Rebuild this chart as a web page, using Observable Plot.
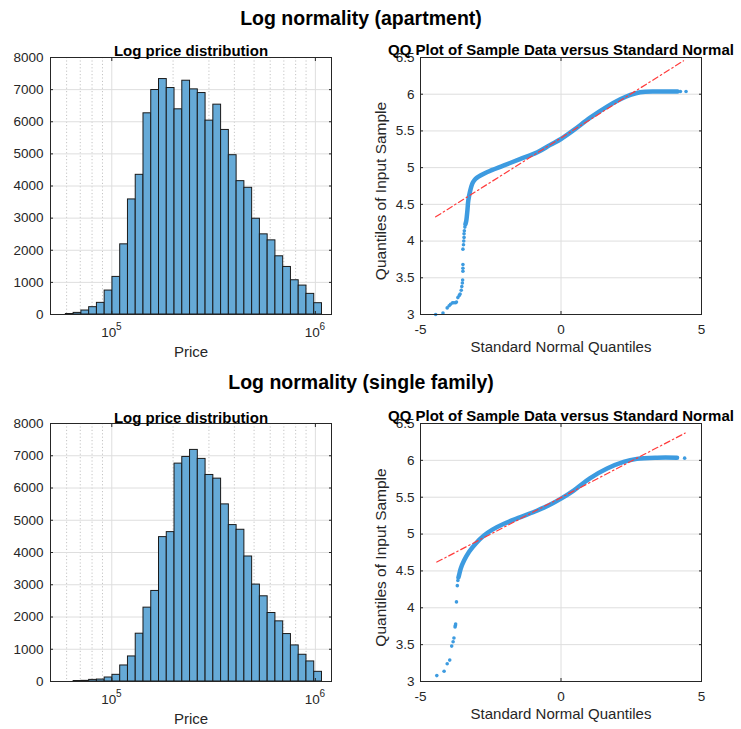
<!DOCTYPE html>
<html>
<head>
<meta charset="utf-8">
<script src="https://cdn.jsdelivr.net/npm/d3@7"></script>
<script src="https://cdn.jsdelivr.net/npm/@observablehq/plot@0.6"></script>
<style>
  body { margin: 0; background: #fff; }
  #root { position: relative; width: 741px; height: 729px; background: #fff; font-family: "Liberation Sans", Arial, sans-serif; }
  .maintitle { position: absolute; left: 0; width: 722px; text-align: center; font-weight: bold; font-size: 19.5px; line-height: 19.5px; color: #000; }
  #root svg { position: absolute; }
</style>
</head>
<body>
<div id="root">
  <div class="maintitle" style="top:8.5px">Log normality (apartment)</div>
  <div class="maintitle" style="top:372.8px">Log normality (single family)</div>
</div>
<script>
// ---------- data ----------
// histogram bins in log10(price)
const binLogStart = 4.7745;
const binLogWidth = 0.03812;
const aptCounts = [15, 50, 124, 228, 362, 745, 1170, 2184, 3582, 4348, 6263, 6988, 7329, 7050, 6387, 7277, 7008, 6894, 6035, 6532, 5745, 4959, 4151, 3944, 2981, 2495, 2308, 1812, 1480, 1066, 900, 642, 352];
const sfCounts  = [0, 15, 20, 50, 60, 124, 207, 497, 777, 1482, 2290, 2808, 4477, 4632, 6756, 6963, 7181, 6902, 6404, 6290, 5492, 4850, 4705, 3876, 3005, 2642, 2124, 1865, 1471, 1119, 829, 622, 300];
const histMajorTicks = [1e5, 1e6];
const histMinorTicks = [6e4, 7e4, 8e4, 9e4, 2e5, 3e5, 4e5, 5e5, 6e5, 7e5, 8e5, 9e5];
const histYTicks = [0, 1000, 2000, 3000, 4000, 5000, 6000, 7000, 8000];

// QQ plots: dense part of the sample quantile curve
const aptDenseX = [-3.40, -3.37, -3.33, -3.30, -3.24, -3.16, -3.08, -3.00, -2.62, -2.03, -1.44, -0.84, -0.38, 0, 0.45, 1.04, 1.64, 2.11, 2.47, 2.82, 3.42, 4.15];
const aptDenseY = [4.23, 4.28, 4.42, 4.55, 4.67, 4.78, 4.83, 4.86, 4.94, 5.03, 5.12, 5.21, 5.31, 5.39, 5.51, 5.68, 5.83, 5.93, 5.99, 6.027, 6.036, 6.036];
// sparse tail points
const aptTailX = [-4.46, -4.20, -4.05, -3.98, -3.93, -3.86, -3.81, -3.75, -3.72, -3.67, -3.62, -3.59, -3.55, -3.53, -3.51, -3.50, -3.49, -3.49, -3.49, -3.49, -3.47, -3.46, -3.45, -3.45, -3.44, -3.42, 4.25, 4.45];
const aptTailY = [3.00, 3.02, 3.09, 3.12, 3.14, 3.16, 3.16, 3.16, 3.17, 3.23, 3.26, 3.28, 3.33, 3.38, 3.43, 3.47, 3.59, 3.63, 3.68, 3.89, 3.95, 4.00, 4.05, 4.10, 4.14, 4.19, 6.036, 6.036];
const aptRefX = [-4.46, 4.36];
const aptRefY = [4.33, 6.455];

const sfDenseX = [-3.65, -3.63, -3.57, -3.45, -3.27, -3.04, -2.74, -2.44, -2.03, -1.44, -0.84, -0.43, 0, 0.45, 1.04, 1.64, 2.23, 2.70, 3.42, 4.13];
const sfDenseY = [4.41, 4.44, 4.53, 4.64, 4.76, 4.87, 4.98, 5.06, 5.14, 5.23, 5.32, 5.39, 5.48, 5.59, 5.76, 5.89, 5.98, 6.02, 6.036, 6.036];
const sfTailX = [-4.42, -4.16, -4.05, -3.96, -3.89, -3.84, -3.81, -3.77, -3.76, -3.75, -3.72, -3.69, -3.67, 4.40];
const sfTailY = [3.08, 3.14, 3.24, 3.29, 3.48, 3.54, 3.59, 3.74, 3.76, 3.78, 4.08, 4.30, 4.37, 6.03];
const sfRefX = [-4.42, 4.42];
const sfRefY = [4.62, 6.37];

const qqXTicks = [-5, 0, 5];
const qqYTicks = [3, 3.5, 4, 4.5, 5, 5.5, 6, 6.5];

// ---------- styles ----------
const FONT = "'Liberation Sans', Arial, sans-serif";
const INK = "#262626";
const GRID = "#dedede";
const BAR = "#66aad7";
const DOT = "#3d9be0";
const RED = "#ff3b3b";

function bins(counts) {
  return counts.map((c, i) => ({
    x1: Math.pow(10, binLogStart + i * binLogWidth),
    x2: Math.pow(10, binLogStart + (i + 1) * binLogWidth),
    count: c
  })).filter(d => d.count > 0);
}
const zip = (xs, ys) => xs.map((x, i) => ({x, y: ys[i]}));

function histPlot(counts, h, mt, mb) {
  return Plot.plot({
    width: 370, height: h,
    marginLeft: 50, marginRight: 39, marginTop: mt, marginBottom: mb,
    x: {type: "log", domain: [5e4, 1.2e6]},
    y: {domain: [0, 8000]},
    style: {fontFamily: FONT, fontSize: "13.5px", color: INK, background: "transparent", overflow: "visible"},
    marks: [
      Plot.gridX(histMinorTicks, {stroke: "#c4c4c4", strokeOpacity: 1, strokeDasharray: "1.2,2.2"}),
      Plot.gridX(histMajorTicks, {stroke: GRID, strokeOpacity: 1}),
      Plot.gridY(histYTicks, {stroke: GRID, strokeOpacity: 1}),
      Plot.rectY(bins(counts), {x1: "x1", x2: "x2", y: "count", fill: BAR, stroke: "#1a1a1a", strokeWidth: 1}),
      Plot.frame({stroke: INK}),
      // power-of-ten tick labels: base and exponent
      Plot.text(histMajorTicks, {x: d => d, frameAnchor: "bottom", text: () => "10", dx: -3, dy: 22, fontSize: 13.5, fill: INK}),
      Plot.text(histMajorTicks, {x: d => d, frameAnchor: "bottom", text: d => String(Math.round(Math.log10(d))), dx: 7, dy: 15, fontSize: 10, fill: INK}),
      Plot.axisX(histMajorTicks, {anchor: "bottom", tickSize: -3, tickFormat: () => "", label: null, stroke: INK}),
      Plot.axisX(histMajorTicks, {anchor: "top", tickSize: -3, tickFormat: () => "", label: null, stroke: INK}),
      Plot.axisY(histYTicks, {anchor: "left", tickSize: 0, tickPadding: 7, tickFormat: d => String(d), label: null, fontSize: 13.5, fill: INK}),
      Plot.axisY(histYTicks, {anchor: "left", tickSize: -3, tickFormat: () => "", label: null, stroke: INK}),
      Plot.axisY(histYTicks, {anchor: "right", tickSize: -3, tickFormat: () => "", label: null, stroke: INK}),
      Plot.text(["Price"], {text: d => d, frameAnchor: "bottom", dy: 42, fontSize: 15, fill: INK}),
      Plot.text(["Log price distribution"], {text: d => d, frameAnchor: "top", dy: mt === 27 ? -12 : -11.5, fontSize: 15, fontWeight: "bold", fill: "#000"})
    ]
  });
}

function qqPlot(dense, tail, ref, h, mt, mb) {
  return Plot.plot({
    width: 371, height: h,
    marginLeft: 50, marginRight: 40, marginTop: mt, marginBottom: mb,
    x: {domain: [-5, 5]},
    y: {domain: [3, 6.5]},
    style: {fontFamily: FONT, fontSize: "13.5px", color: INK, background: "transparent", overflow: "visible"},
    marks: [
      Plot.gridY(qqYTicks, {stroke: GRID, strokeOpacity: 1}),
      Plot.gridX(qqXTicks, {stroke: GRID, strokeOpacity: 1}),
      Plot.line(dense, {x: "x", y: "y", stroke: DOT, strokeWidth: 4.5, curve: "catmull-rom", strokeLinecap: "round"}),
      Plot.dot(tail, {x: "x", y: "y", r: 1.8, fill: DOT, stroke: null}),
      Plot.line(ref, {x: "x", y: "y", stroke: RED, strokeWidth: 1.2, strokeDasharray: "6,3,1.5,3"}),
      Plot.frame({stroke: INK}),
      Plot.axisX(qqXTicks, {anchor: "bottom", tickSize: 0, tickPadding: 10, tickFormat: d => String(d), label: null, fontSize: 13.5, fill: INK}),
      Plot.axisX(qqXTicks, {anchor: "bottom", tickSize: -3, tickFormat: () => "", label: null, stroke: INK}),
      Plot.axisX(qqXTicks, {anchor: "top", tickSize: -3, tickFormat: () => "", label: null, stroke: INK}),
      Plot.axisY(qqYTicks, {anchor: "left", tickSize: 0, tickPadding: 6, tickFormat: d => String(d), label: null, fontSize: 13.5, fill: INK}),
      Plot.axisY(qqYTicks, {anchor: "left", tickSize: -3, tickFormat: () => "", label: null, stroke: INK}),
      Plot.axisY(qqYTicks, {anchor: "right", tickSize: -3, tickFormat: () => "", label: null, stroke: INK}),
      Plot.text(["Standard Normal Quantiles"], {text: d => d, frameAnchor: "bottom", dy: 37, fontSize: 15, fill: INK}),
      Plot.text(["Quantiles of Input Sample"], {text: d => d, frameAnchor: "left", textAnchor: "middle", dx: -39.5, dy: 5, rotate: -90, fontSize: 15.5, fill: INK}),
      Plot.text(["QQ Plot of Sample Data versus Standard Normal"], {text: d => d, frameAnchor: "top", dy: mt === 27 ? -13.5 : -13, fontSize: 15, fontWeight: "bold", fill: "#000"})
    ]
  });
}

const root = document.getElementById("root");
function place(svg, left, top) {
  svg.style.left = left + "px";
  svg.style.top = top + "px";
  root.appendChild(svg);
}
place(histPlot(aptCounts, 345, 27, 61), 0, 30);
place(qqPlot(zip(aptDenseX, aptDenseY), zip(aptTailX, aptTailY), zip(aptRefX, aptRefY), 345, 27, 61), 370, 30);
place(histPlot(sfCounts, 334, 28, 48), 0, 395);
place(qqPlot(zip(sfDenseX, sfDenseY), zip(sfTailX, sfTailY), zip(sfRefX, sfRefY), 334, 28, 48), 370, 395);
</script>
</body>
</html>
